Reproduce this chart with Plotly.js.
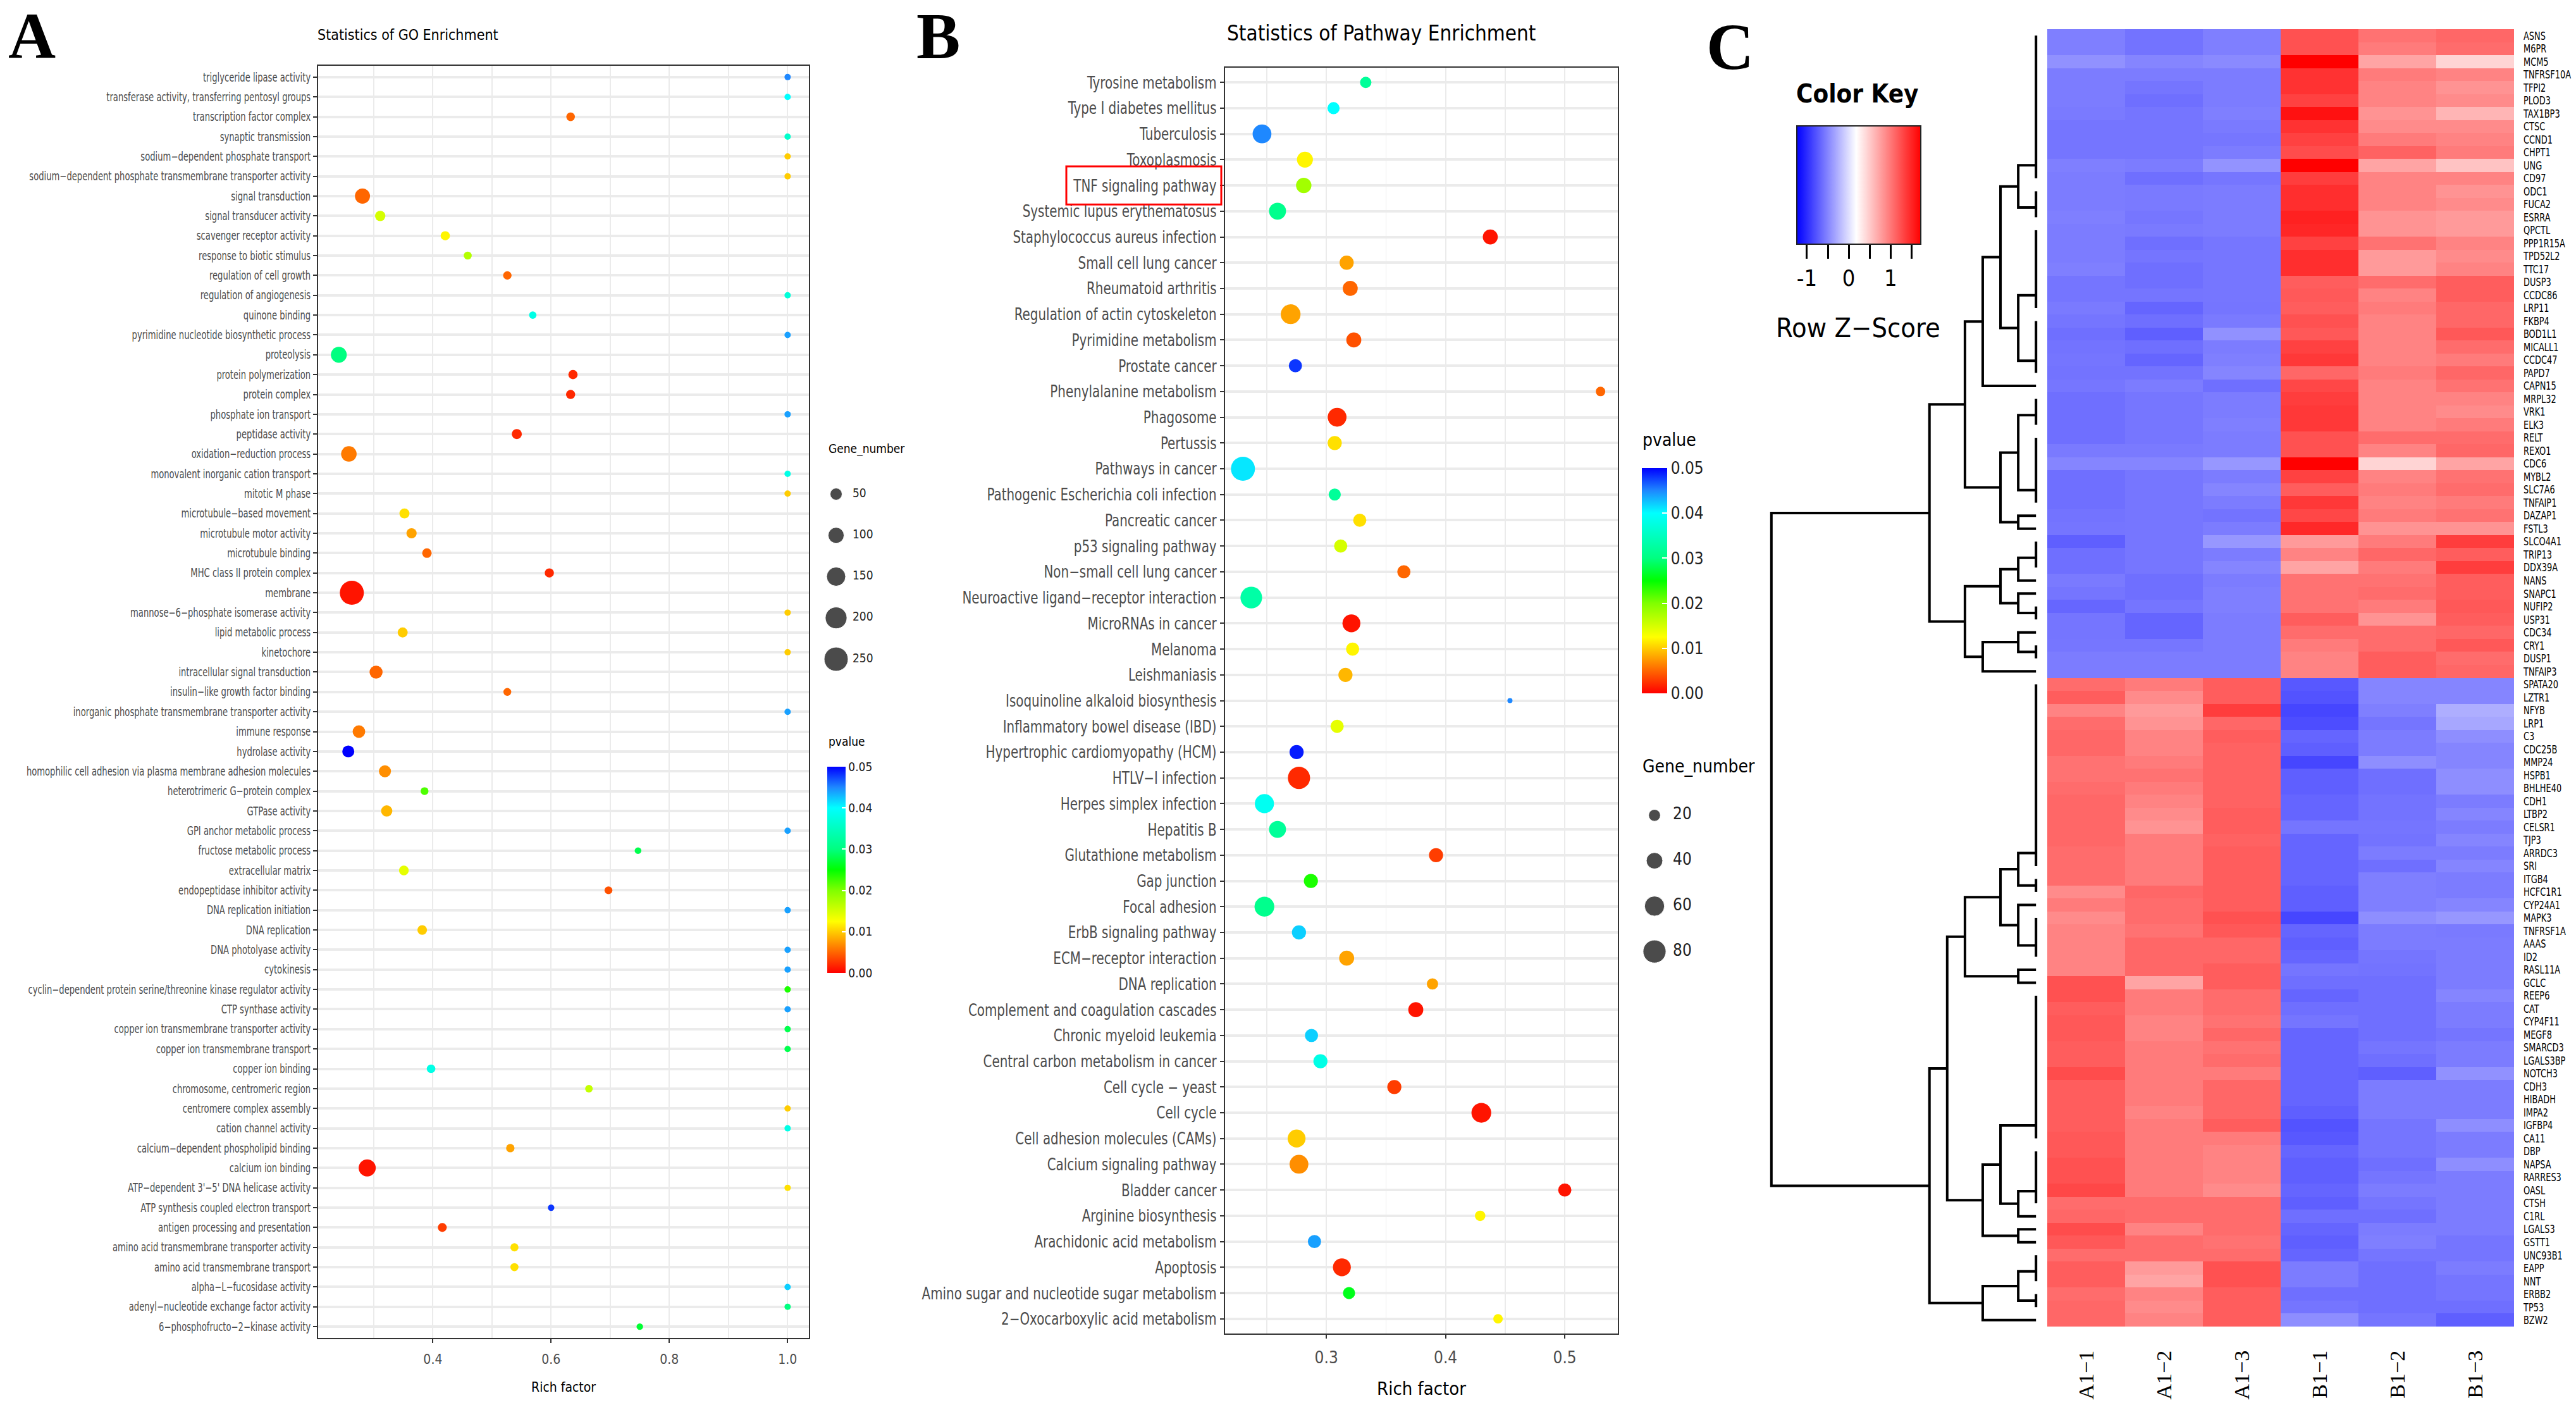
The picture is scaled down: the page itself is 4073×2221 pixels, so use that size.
<!DOCTYPE html>
<html><head><meta charset="utf-8">
<script src="https://cdn.plot.ly/plotly-3.0.1.min.js"></script>
<style>html,body{margin:0;padding:0;background:#fff}</style>
</head><body><div id="chart" style="width:4073px;height:2221px"></div>
<script>
// ---------------- Panel A: GO enrichment ----------------
const goTerms = ["triglyceride lipase activity","transferase activity, transferring pentosyl groups","transcription factor complex","synaptic transmission","sodium\u2212dependent phosphate transport","sodium\u2212dependent phosphate transmembrane transporter activity","signal transduction","signal transducer activity","scavenger receptor activity","response to biotic stimulus","regulation of cell growth","regulation of angiogenesis","quinone binding","pyrimidine nucleotide biosynthetic process","proteolysis","protein polymerization","protein complex","phosphate ion transport","peptidase activity","oxidation\u2212reduction process","monovalent inorganic cation transport","mitotic M phase","microtubule\u2212based movement","microtubule motor activity","microtubule binding","MHC class II protein complex","membrane","mannose\u22126\u2212phosphate isomerase activity","lipid metabolic process","kinetochore","intracellular signal transduction","insulin\u2212like growth factor binding","inorganic phosphate transmembrane transporter activity","immune response","hydrolase activity","homophilic cell adhesion via plasma membrane adhesion molecules","heterotrimeric G\u2212protein complex","GTPase activity","GPI anchor metabolic process","fructose metabolic process","extracellular matrix","endopeptidase inhibitor activity","DNA replication initiation","DNA replication","DNA photolyase activity","cytokinesis","cyclin\u2212dependent protein serine/threonine kinase regulator activity","CTP synthase activity","copper ion transmembrane transporter activity","copper ion transmembrane transport","copper ion binding","chromosome, centromeric region","centromere complex assembly","cation channel activity","calcium\u2212dependent phospholipid binding","calcium ion binding","ATP\u2212dependent 3'\u22125' DNA helicase activity","ATP synthesis coupled electron transport","antigen processing and presentation","amino acid transmembrane transporter activity","amino acid transmembrane transport","alpha\u2212L\u2212fucosidase activity","adenyl\u2212nucleotide exchange factor activity","6\u2212phosphofructo\u22122\u2212kinase activity"];
const goRich = [1.0,1.0,0.633,1.0,1.0,1.0,0.281,0.311,0.421,0.459,0.526,1.0,0.569,1.0,0.241,0.637,0.633,1.0,0.542,0.258,1.0,1.0,0.352,0.364,0.390,0.597,0.263,1.0,0.349,1.0,0.304,0.526,1.0,0.275,0.257,0.319,0.386,0.322,1.0,0.747,0.351,0.697,1.0,0.382,1.0,1.0,1.0,1.0,1.0,1.0,0.397,0.664,1.0,1.0,0.531,0.289,1.0,0.600,0.416,0.538,0.538,1.0,1.0,0.750];
const goGenes = [2,2,18,2,2,2,88,33,23,13,16,2,9,2,100,23,22,2,30,95,2,2,30,32,25,22,250,2,30,2,62,12,2,56,50,50,12,42,2,4,27,12,2,26,2,2,2,2,2,2,18,10,2,2,16,118,2,3,20,14,14,2,2,3];
const goP = [0.045,0.040,0.005,0.036,0.010,0.010,0.005,0.015,0.012,0.017,0.005,0.037,0.038,0.044,0.030,0.002,0.002,0.044,0.002,0.006,0.038,0.010,0.011,0.008,0.005,0.002,0.001,0.010,0.010,0.010,0.005,0.005,0.044,0.006,0.050,0.007,0.022,0.009,0.044,0.028,0.014,0.004,0.044,0.010,0.044,0.044,0.024,0.044,0.028,0.028,0.038,0.016,0.010,0.038,0.008,0.001,0.011,0.048,0.003,0.011,0.011,0.042,0.030,0.027];
const goSizeLegend = [50,100,150,200,250];

// ---------------- Panel B: pathway enrichment ----------------
const kgTerms = ["Tyrosine metabolism","Type I diabetes mellitus","Tuberculosis","Toxoplasmosis","TNF signaling pathway","Systemic lupus erythematosus","Staphylococcus aureus infection","Small cell lung cancer","Rheumatoid arthritis","Regulation of actin cytoskeleton","Pyrimidine metabolism","Prostate cancer","Phenylalanine metabolism","Phagosome","Pertussis","Pathways in cancer","Pathogenic Escherichia coli infection","Pancreatic cancer","p53 signaling pathway","Non\u2212small cell lung cancer","Neuroactive ligand\u2212receptor interaction","MicroRNAs in cancer","Melanoma","Leishmaniasis","Isoquinoline alkaloid biosynthesis","Inflammatory bowel disease (IBD)","Hypertrophic cardiomyopathy (HCM)","HTLV\u2212I infection","Herpes simplex infection","Hepatitis B","Glutathione metabolism","Gap junction","Focal adhesion","ErbB signaling pathway","ECM\u2212receptor interaction","DNA replication","Complement and coagulation cascades","Chronic myeloid leukemia","Central carbon metabolism in cancer","Cell cycle \u2212 yeast","Cell cycle","Cell adhesion molecules (CAMs)","Calcium signaling pathway","Bladder cancer","Arginine biosynthesis","Arachidonic acid metabolism","Apoptosis","Amino sugar and nucleotide sugar metabolism","2\u2212Oxocarboxylic acid metabolism"];
const kgRich = [0.333,0.306,0.246,0.282,0.281,0.259,0.4375,0.317,0.320,0.270,0.323,0.274,0.530,0.309,0.307,0.230,0.307,0.328,0.312,0.365,0.237,0.321,0.322,0.316,0.454,0.309,0.275,0.277,0.248,0.259,0.392,0.287,0.248,0.277,0.317,0.389,0.375,0.2875,0.295,0.357,0.430,0.275,0.277,0.500,0.429,0.290,0.313,0.319,0.444];
const kgGenes = [18,21,53,38,35,43,33,29,33,59,33,25,12,53,29,88,21,25,25,25,71,48,25,29,2,25,29,75,55,43,29,29,59,29,33,18,33,25,29,29,59,48,53,25,15,25,48,21,12];
const kgP = [0.032,0.040,0.045,0.012,0.018,0.031,0.001,0.008,0.005,0.008,0.004,0.048,0.005,0.002,0.011,0.041,0.032,0.011,0.015,0.005,0.033,0.001,0.012,0.009,0.045,0.014,0.049,0.002,0.039,0.032,0.003,0.024,0.031,0.042,0.008,0.008,0.001,0.042,0.038,0.003,0.001,0.010,0.007,0.001,0.012,0.044,0.002,0.026,0.012];
const kgSizeLegend = [20,40,60,80];

// ---------------- Panel C: heatmap ----------------
const samples = ["A1\u22121","A1\u22122","A1\u22123","B1\u22121","B1\u22122","B1\u22123"];
const genes = ["ASNS","M6PR","MCM5","TNFRSF10A","TFPI2","PLOD3","TAX1BP3","CTSC","CCND1","CHPT1","UNG","CD97","ODC1","FUCA2","ESRRA","QPCTL","PPP1R15A","TPD52L2","TTC17","DUSP3","CCDC86","LRP11","FKBP4","BOD1L1","MICALL1","CCDC47","PAPD7","CAPN15","MRPL32","VRK1","ELK3","RELT","REXO1","CDC6","MYBL2","SLC7A6","TNFAIP1","DAZAP1","FSTL3","SLCO4A1","TRIP13","DDX39A","NANS","SNAPC1","NUFIP2","USP31","CDC34","CRY1","DUSP1","TNFAIP3","SPATA20","LZTR1","NFYB","LRP1","C3","CDC25B","MMP24","HSPB1","BHLHE40","CDH1","LTBP2","CELSR1","TJP3","ARRDC3","SRI","ITGB4","HCFC1R1","CYP24A1","MAPK3","TNFRSF1A","AAAS","ID2","RASL11A","GCLC","REEP6","CAT","CYP4F11","MEGF8","SMARCD3","LGALS3BP","NOTCH3","CDH3","HIBADH","IMPA2","IGFBP4","CA11","DBP","NAPSA","RARRES3","OASL","CTSH","C1RL","LGALS3","GSTT1","UNC93B1","EAPP","NNT","ERBB2","TP53","BZW2"];
const zScores = [
[-0.53,-0.60,-0.53,1.23,1.03,1.10],[-0.53,-0.60,-0.53,1.23,0.98,1.07],[-0.43,-0.50,-0.47,1.72,0.73,0.44],[-0.55,-0.55,-0.55,1.42,0.98,0.93],[-0.55,-0.59,-0.55,1.42,0.93,0.83],
[-0.55,-0.62,-0.55,1.33,0.93,0.88],[-0.56,-0.59,-0.53,1.62,0.83,0.63],[-0.59,-0.59,-0.56,1.42,0.88,0.88],[-0.59,-0.59,-0.58,1.33,0.98,0.93],[-0.59,-0.59,-0.55,1.26,1.13,0.98],
[-0.53,-0.55,-0.42,1.72,0.73,0.54],[-0.55,-0.62,-0.58,1.35,0.93,0.93],[-0.55,-0.56,-0.55,1.44,0.93,0.83],[-0.55,-0.56,-0.55,1.44,0.93,0.88],[-0.53,-0.58,-0.55,1.52,0.83,0.79],
[-0.55,-0.56,-0.55,1.49,0.83,0.79],[-0.55,-0.62,-0.58,1.33,1.03,0.93],[-0.55,-0.59,-0.58,1.44,0.79,0.88],[-0.53,-0.62,-0.58,1.44,0.79,0.93],[-0.59,-0.62,-0.58,1.16,1.07,1.16],
[-0.59,-0.59,-0.58,1.18,0.93,1.16],[-0.56,-0.68,-0.59,1.16,0.98,1.10],[-0.59,-0.62,-0.56,1.23,0.93,1.10],[-0.62,-0.71,-0.43,1.19,0.93,1.19],[-0.60,-0.62,-0.55,1.33,0.93,1.07],
[-0.59,-0.68,-0.53,1.38,0.93,0.98],[-0.60,-0.60,-0.50,1.10,0.98,1.10],[-0.58,-0.55,-0.62,1.29,0.93,1.03],[-0.62,-0.58,-0.55,1.35,0.93,0.93],[-0.62,-0.58,-0.55,1.38,0.93,0.88],
[-0.62,-0.58,-0.53,1.38,0.93,0.98],[-0.62,-0.58,-0.55,1.23,1.07,1.07],[-0.56,-0.56,-0.55,1.23,0.93,1.10],[-0.50,-0.50,-0.40,1.72,0.44,0.73],[-0.62,-0.58,-0.55,1.33,0.93,1.03],
[-0.62,-0.58,-0.50,1.16,0.98,1.07],[-0.62,-0.58,-0.55,1.38,0.93,0.98],[-0.60,-0.58,-0.60,1.29,0.98,1.03],[-0.59,-0.58,-0.55,1.48,0.83,0.83],[-0.71,-0.58,-0.40,0.79,0.98,1.35],
[-0.62,-0.58,-0.55,0.93,1.10,1.16],[-0.62,-0.58,-0.50,0.73,0.98,1.35],[-0.56,-0.62,-0.55,1.03,1.03,1.16],[-0.59,-0.62,-0.53,1.03,1.07,1.16],[-0.67,-0.59,-0.53,1.03,0.98,1.19],
[-0.59,-0.68,-0.55,1.16,0.83,1.16],[-0.59,-0.68,-0.55,1.07,1.07,1.10],[-0.58,-0.58,-0.55,0.98,1.07,1.19],[-0.55,-0.55,-0.55,0.93,1.16,1.07],[-0.55,-0.55,-0.55,0.93,1.16,1.10],
[1.07,0.98,1.16,-0.75,-0.50,-0.50],[1.16,0.88,1.16,-0.78,-0.50,-0.50],[0.93,0.79,1.35,-0.85,-0.53,-0.27],[1.07,0.83,1.10,-0.81,-0.59,-0.31],[1.10,0.93,1.16,-0.68,-0.55,-0.45],
[1.10,0.93,1.13,-0.71,-0.55,-0.50],[1.03,0.98,1.13,-0.85,-0.45,-0.50],[1.03,1.03,1.13,-0.71,-0.62,-0.45],[1.07,0.98,1.13,-0.71,-0.62,-0.45],[1.10,0.93,1.13,-0.68,-0.60,-0.55],
[1.10,0.88,1.16,-0.68,-0.60,-0.50],[1.10,0.83,1.16,-0.59,-0.59,-0.55],[1.10,0.98,1.13,-0.68,-0.60,-0.50],[1.07,0.98,1.16,-0.68,-0.55,-0.55],[1.07,0.98,1.16,-0.68,-0.62,-0.50],
[1.07,0.98,1.16,-0.68,-0.53,-0.55],[0.88,1.10,1.16,-0.71,-0.53,-0.55],[0.98,1.07,1.16,-0.71,-0.53,-0.50],[0.88,1.07,1.23,-0.85,-0.45,-0.40],[0.93,1.03,1.19,-0.68,-0.55,-0.56],
[0.93,1.10,1.10,-0.71,-0.55,-0.55],[0.93,1.10,1.10,-0.68,-0.59,-0.55],[0.93,1.10,1.16,-0.59,-0.60,-0.55],[1.23,0.73,1.16,-0.62,-0.62,-0.55],[1.23,0.98,1.07,-0.68,-0.62,-0.50],
[1.16,0.98,1.07,-0.62,-0.62,-0.55],[1.19,0.93,1.03,-0.59,-0.62,-0.55],[1.19,0.93,1.10,-0.68,-0.62,-0.59],[1.16,0.98,1.03,-0.68,-0.59,-0.55],[1.16,0.98,1.07,-0.68,-0.62,-0.55],
[1.26,0.98,0.98,-0.68,-0.71,-0.43],[1.16,0.98,1.10,-0.68,-0.55,-0.55],[1.16,0.98,1.10,-0.68,-0.55,-0.55],[1.16,0.93,1.10,-0.71,-0.55,-0.55],[1.16,0.98,1.16,-0.78,-0.59,-0.45],
[1.19,0.98,0.98,-0.75,-0.59,-0.55],[1.19,0.98,0.93,-0.68,-0.59,-0.55],[1.23,0.98,0.93,-0.71,-0.62,-0.45],[1.23,0.98,0.93,-0.71,-0.59,-0.55],[1.29,0.98,0.88,-0.68,-0.55,-0.55],
[1.07,1.07,1.07,-0.71,-0.59,-0.55],[1.10,1.07,1.07,-0.62,-0.62,-0.55],[1.26,0.93,1.07,-0.68,-0.55,-0.55],[1.19,1.07,1.03,-0.71,-0.53,-0.59],[1.07,1.07,1.07,-0.68,-0.59,-0.59],
[1.16,0.79,1.23,-0.55,-0.62,-0.55],[1.16,0.73,1.23,-0.55,-0.62,-0.59],[1.07,0.93,1.16,-0.62,-0.62,-0.59],[1.10,0.88,1.16,-0.59,-0.62,-0.62],[1.10,0.93,1.16,-0.45,-0.59,-0.71]
];
const zRange = [-1.24, 1.72];
const keyTicks = [-1,-0.5,0,0.5,1,1.5];
const keyTickText = ["-1","","0","","1",""];

// Row dendrogram (merge heights; leaf groups = rows joined at ~zero height)
function rows(a,b){const r=[];for(let i=a;i<=b;i++)r.push(i);return r;}
const rowTree = {h:14.9, c:[
  {h:6, c:[
    {h:4, c:[
      {h:3, c:[{h:2, c:[{h:1, c:[rows(1,12), rows(13,15)]},{h:1, c:[rows(16,22), rows(23,27)]}]}, [28]]},
      {h:2, c:[{h:1, c:[rows(29,31), rows(32,37)]},{h:1, c:[[38],[39]]}]}
    ]},
    {h:4, c:[
      {h:2, c:[{h:1, c:[rows(40,42),[43]]},{h:1, c:[[44],rows(45,46)]}]},
      {h:3, c:[{h:1, c:[[47],rows(48,49)]}, [50]]}
    ]}
  ]},
  {h:6, c:[
    {h:5, c:[
      {h:4, c:[
        {h:2, c:[{h:1, c:[rows(51,65), rows(66,67)]},{h:1, c:[[68], rows(69,72)]}]},
        {h:1, c:[[73],[74]]}
      ]},
      {h:3, c:[
        {h:2, c:[rows(75,86), {h:1, c:[rows(87,91),[92]]}]},
        {h:1, c:[[93],[94]]}
      ]}
    ]},
    {h:3, c:[{h:1, c:[rows(95,97), rows(98,99)]}, [100]]}
  ]}
]};

// ---------------- helpers ----------------
const W = 4073, H = 2221;
const FN = "'Liberation Sans Narrow','Arial Narrow','DejaVu Sans Condensed',sans-serif";
const FS = "'Liberation Serif','Times New Roman',serif";
const px = v => v / W;
const py = v => 1 - v / H;
const pScale = [[0,'#FF0000'],[0.125,'#FF7F00'],[0.25,'#FFFF00'],[0.4,'#80FF00'],[0.5,'#00FF00'],[0.6,'#00FF80'],[0.8,'#00FFFF'],[0.9,'#1E88FF'],[1,'#0000FF']];
function sizeMap(vals, dmin, dmax){
  const lo = Math.min(...vals), hi = Math.max(...vals);
  return v => Math.sqrt(dmin*dmin + (dmax*dmax - dmin*dmin) * (v - lo) / (hi - lo));
}
const sizeA = sizeMap(goGenes, 10, 38);
const sizeB = sizeMap(kgGenes, 8, 38);

// dendrogram segments
const dx = [], dy = [];
function lay(node){
  if (Array.isArray(node)){
    let y = node[0] - 1;
    for (let k = 1; k < node.length; k++) y = (y + node[k] - 1) / 2;
    if (node.length > 1){ dx.push(0, 0, null); dy.push(node[0]-1, node[node.length-1]-1, null); }
    return {y: y, h: 0};
  }
  const a = lay(node.c[0]), b = lay(node.c[1]);
  dx.push(a.h, node.h, node.h, b.h, null);
  dy.push(a.y, a.y, b.y, b.y, null);
  return {y: (a.y + b.y) / 2, h: node.h};
}
lay(rowTree);

const gridC = '#EBEBEB';
function catAxis(domain, n, fsize){
  return {domain: domain, type:'category', range:[n - 1 + 0.57, -0.57], tickmode:'linear', dtick:1, tick0:0,
    showgrid:true, gridcolor:gridC, gridwidth:4, zeroline:false, showline:true, mirror:true, linecolor:'#333', linewidth:2,
    ticks:'outside', ticklen:6, tickwidth:2, tickcolor:'#333', tickfont:{family:FN, size:fsize, color:'#4D4D4D'}, automargin:false, fixedrange:true};
}

const traces = [
  {type:'scatter', mode:'markers', x: goRich, y: goTerms, xaxis:'x', yaxis:'y', hoverinfo:'skip',
   marker:{size: goGenes.map(sizeA), color: goP, colorscale: pScale, cmin:0, cmax:0.05, line:{width:0}, opacity:1,
     showscale:true, colorbar:{x:px(1308), xanchor:'left', xpad:0, y:py(1212), yanchor:'top', ypad:0, len:326, lenmode:'pixels',
       thickness:29, outlinewidth:0, ticks:'inside', ticklen:6, tickcolor:'#fff', tickwidth:2, tickvals:[0,0.01,0.02,0.03,0.04,0.05],
       tickformat:'.2f', tickfont:{family:FN, size:19, color:'#222'}}}},
  {type:'scatter', mode:'markers', x: kgRich, y: kgTerms, xaxis:'x2', yaxis:'y2', hoverinfo:'skip',
   marker:{size: kgGenes.map(sizeB), color: kgP, colorscale: pScale, cmin:0, cmax:0.05, line:{width:0}, opacity:1,
     showscale:true, colorbar:{x:px(2596), xanchor:'left', xpad:0, y:py(740), yanchor:'top', ypad:0, len:356, lenmode:'pixels',
       thickness:40, outlinewidth:0, ticks:'inside', ticklen:8, tickcolor:'#fff', tickwidth:2, tickvals:[0,0.01,0.02,0.03,0.04,0.05],
       tickformat:'.2f', tickfont:{family:FN, size:26, color:'#222'}}}},
  {type:'heatmap', z: zScores, x: samples, y: genes, xaxis:'x3', yaxis:'y3', hoverinfo:'skip',
   zmin: zRange[0], zmax: zRange[1], colorscale:[[0,'#0000FF'],[0.48,'#FFFFFF'],[1,'#FF0000']],
   showscale:true, colorbar:{orientation:'h', x:px(2939), xanchor:'center', xpad:0, y:py(199), yanchor:'top', ypad:0,
     len:196, lenmode:'pixels', thickness:187, outlinewidth:2, outlinecolor:'#222', ticks:'outside', ticklen:22, tickwidth:3,
     tickcolor:'#000', tickvals:keyTicks, ticktext:keyTickText, tickfont:{family:FN, size:36, color:'#000'}}},
  {type:'scatter', mode:'lines', x: dx, y: dy, xaxis:'x4', yaxis:'y4', hoverinfo:'skip', line:{color:'#000', width:4}, connectgaps:false},
  {type:'scatter', mode:'markers', x: goSizeLegend.map(()=>0), y: goSizeLegend.map(String), xaxis:'x5', yaxis:'y5', hoverinfo:'skip',
   marker:{size: goSizeLegend.map(sizeA), color:'#000'}},
  {type:'scatter', mode:'text', x: goSizeLegend.map(()=>1), y: goSizeLegend.map(String), text: goSizeLegend.map(String), textposition:'middle right',
   xaxis:'x5', yaxis:'y5', hoverinfo:'skip', cliponaxis:false, textfont:{family:FN, size:19, color:'#222'}},
  {type:'scatter', mode:'markers', x: kgSizeLegend.map(()=>0), y: kgSizeLegend.map(String), xaxis:'x6', yaxis:'y6', hoverinfo:'skip',
   marker:{size: kgSizeLegend.map(sizeB), color:'#000'}},
  {type:'scatter', mode:'text', x: kgSizeLegend.map(()=>1), y: kgSizeLegend.map(String), text: kgSizeLegend.map(String), textposition:'middle right',
   xaxis:'x6', yaxis:'y6', hoverinfo:'skip', cliponaxis:false, textfont:{family:FN, size:26, color:'#222'}}
];

const hidden = {visible:false, fixedrange:true};
const ann = (text, x, y, size, opt) => Object.assign({text:text, x:px(x), y:py(y), xref:'paper', yref:'paper', showarrow:false,
  xanchor:'center', yanchor:'middle', font:{family:FN, size:size, color:'#000'}}, opt || {});

const layout = {
  width: W, height: H, margin:{l:0,r:0,t:0,b:0}, paper_bgcolor:'#fff', plot_bgcolor:'#fff', showlegend:false,
  xaxis:{domain:[px(503), px(1279)], anchor:'y', range:[0.206, 1.036], tick0:0, dtick:0.2, tickformat:'.1f',
    showgrid:true, gridcolor:gridC, gridwidth:2, zeroline:false, showline:true, mirror:true, linecolor:'#333', linewidth:2,
    minor:{dtick:0.1, tick0:0, showgrid:true, gridcolor:gridC, gridwidth:1.5},
    ticks:'outside', ticklen:6, tickwidth:2, tickcolor:'#333', ticklabelstandoff:8, tickfont:{family:FN, size:21, color:'#4D4D4D'}, automargin:false, fixedrange:true},
  yaxis: Object.assign(catAxis([py(2115), py(104)], goTerms.length, 19), {anchor:'x'}),
  xaxis2:{domain:[px(1937), px(2558)], anchor:'y2', range:[0.215, 0.5445], tick0:0, dtick:0.1, tickformat:'.1f',
    showgrid:true, gridcolor:gridC, gridwidth:2, zeroline:false, showline:true, mirror:true, linecolor:'#333', linewidth:2,
    minor:{dtick:0.05, tick0:0, showgrid:true, gridcolor:gridC, gridwidth:1.5},
    ticks:'outside', ticklen:6, tickwidth:2, tickcolor:'#333', ticklabelstandoff:8, tickfont:{family:FN, size:26, color:'#4D4D4D'}, automargin:false, fixedrange:true},
  yaxis2: Object.assign(catAxis([py(2108), py(107)], kgTerms.length, 27), {anchor:'x2'}),
  xaxis3:{domain:[px(3237), px(3975)], anchor:'y3', type:'category', side:'bottom', tickangle:-90, ticks:'', showgrid:false, zeroline:false,
    showline:false, ticklabelstandoff:30, tickfont:{family:FS, size:34, color:'#000'}, automargin:false, fixedrange:true},
  yaxis3:{domain:[py(2097), py(46)], anchor:'x3', type:'category', side:'right', range:[99.5, -0.5], tickmode:'linear', dtick:1, tick0:0,
    ticks:'', showgrid:false, zeroline:false, showline:false, ticklabelstandoff:14, tickfont:{family:FN, size:18, color:'#000'}, automargin:false, fixedrange:true},
  xaxis4: Object.assign({domain:[px(2798), px(3222)], anchor:'y4', range:[15.0, -0.1]}, hidden),
  yaxis4: Object.assign({domain:[py(2097), py(46)], anchor:'x4', range:[99.5, -0.5]}, hidden),
  xaxis5: Object.assign({domain:[px(1296), px(1348)], anchor:'y5', range:[-1, 1]}, hidden),
  yaxis5: Object.assign({domain:[py(1074.6), py(748.4)], anchor:'x5', type:'category', range:[4.5, -0.5]}, hidden),
  xaxis6: Object.assign({domain:[px(2587), px(2645)], anchor:'y6', range:[-1, 1]}, hidden),
  yaxis6: Object.assign({domain:[py(1540), py(1253)], anchor:'x6', type:'category', range:[3.5, -0.5]}, hidden),
  shapes:[{type:'rect', xref:'paper', yref:'y2', x0:px(1686), x1:px(1931), y0:4 - 0.74, y1:4 + 0.74, line:{color:'#FF0000', width:3}, fillcolor:'rgba(0,0,0,0)'}],
  annotations:[
    ann('<b>A</b>', 50, 57, 104, {font:{family:FS, size:104, color:'#000'}}),
    ann('<b>B</b>', 1483, 57, 104, {font:{family:FS, size:104, color:'#000'}}),
    ann('<b>C</b>', 2735, 73, 104, {font:{family:FS, size:104, color:'#000'}}),
    ann('Statistics of GO Enrichment', 500, 55, 23, {xanchor:'left'}),
    ann('Statistics of Pathway Enrichment', 1938, 53, 33, {xanchor:'left'}),
    ann('Rich factor', 891, 2193, 21),
    ann('Rich factor', 2247, 2195, 29),
    ann('Gene_number', 1308, 709, 19, {xanchor:'left'}),
    ann('pvalue', 1308, 1172, 19, {xanchor:'left'}),
    ann('pvalue', 2595, 696, 28, {xanchor:'left'}),
    ann('Gene_number', 2595, 1211, 28, {xanchor:'left'}),
    ann('<b>Color Key</b>', 2937, 148, 40),
    ann('Row Z\u2212Score', 2938, 518, 43)
  ]
};

// horizontally condense tick labels (the reference uses a narrow face)
function squash(gd, cls, s){
  gd.querySelectorAll('g.' + cls + ' text').forEach(t => {
    const x = parseFloat(t.getAttribute('x')) || 0, y = parseFloat(t.getAttribute('y')) || 0;
    const tr = t.getAttribute('transform') || '';
    t.setAttribute('transform', tr + ' translate(' + x + ',' + y + ') scale(' + s + ',1) translate(' + (-x) + ',' + (-y) + ')');
  });
}

Plotly.newPlot('chart', traces, layout, {staticPlot:true, displayModeBar:false}).then(gd => {
  squash(gd, 'ytick', 0.77);
  squash(gd, 'y2tick', 0.82);
  squash(gd, 'y3tick', 0.8);
});
</script></body></html>
